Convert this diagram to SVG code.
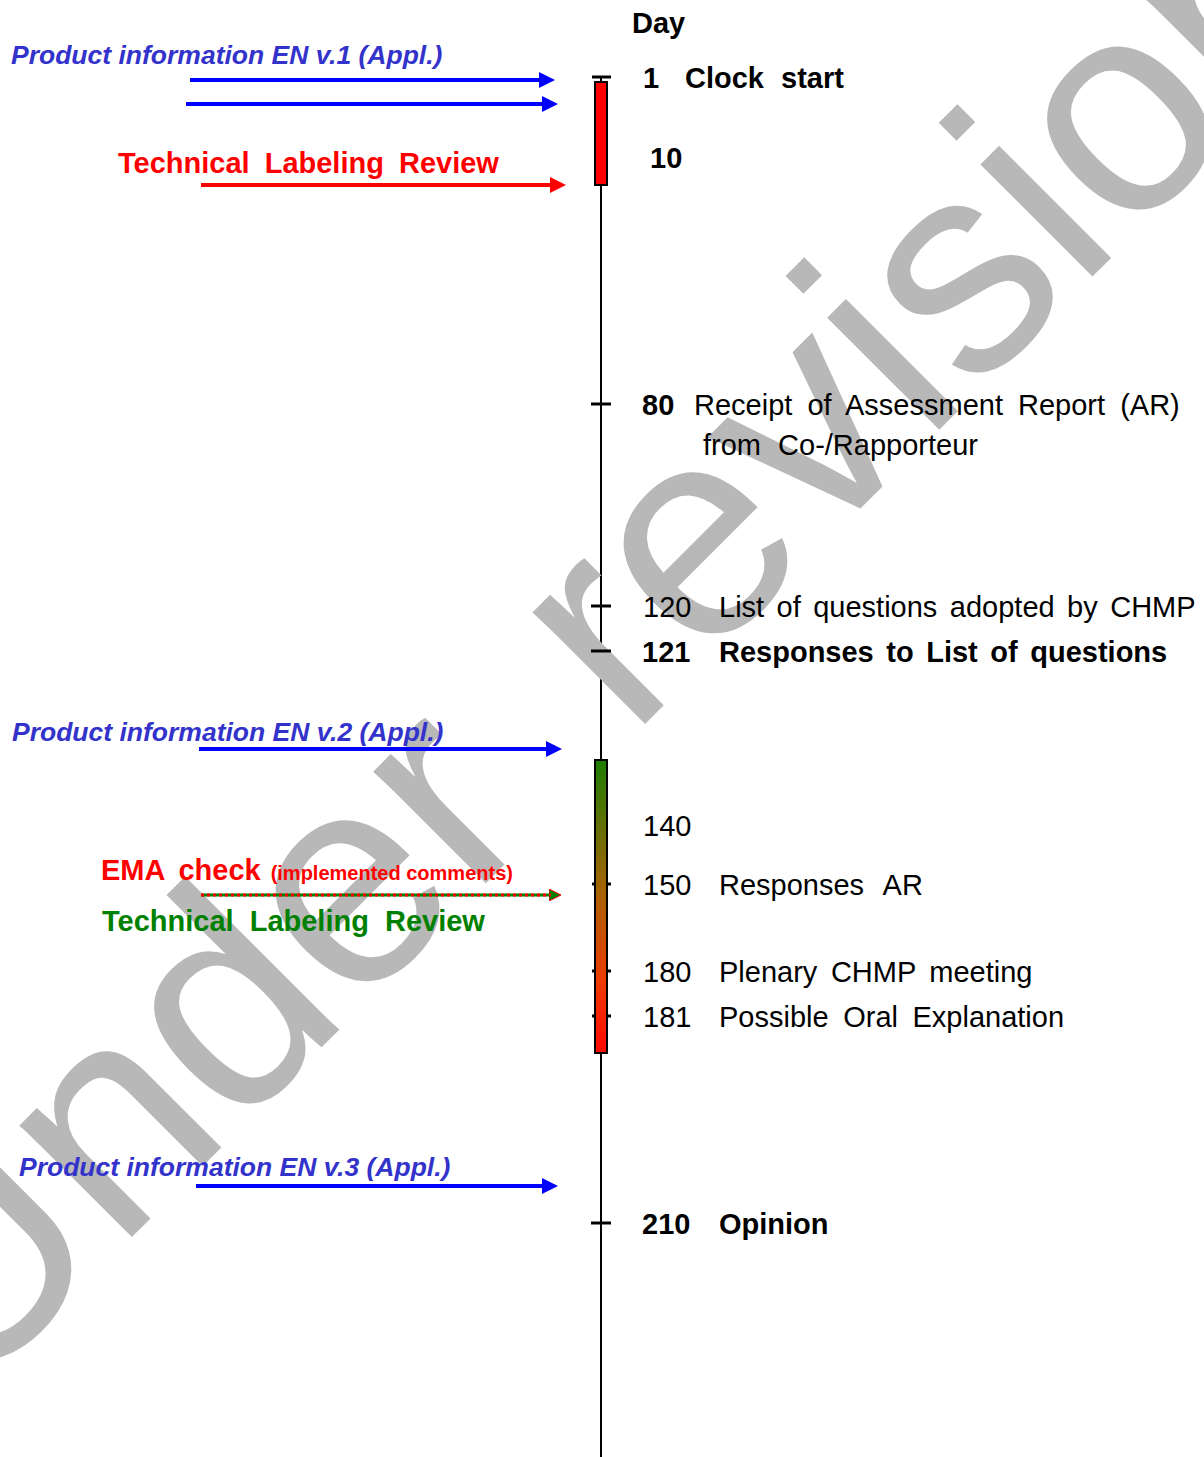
<svg xmlns="http://www.w3.org/2000/svg" width="1204" height="1457" viewBox="0 0 1204 1457">
<style>
text{font-family:"Liberation Sans",Arial,sans-serif}
.wm{font-size:300px;fill:#b8b8b8;word-spacing:42px}
.r{font-size:29px;fill:#000}
.b{font-size:29px;fill:#000;font-weight:bold}
.pi{font-size:26.5px;fill:#3333cc;font-weight:bold;font-style:italic}
.tlr{font-size:29px;font-weight:bold}
.tick{stroke:#000;stroke-width:3}
.blue{stroke:#0000ff;stroke-width:4;fill:none}
.red{stroke:#ff0000;stroke-width:4;fill:none}
</style>
<defs>
<linearGradient id="grad" x1="0" y1="0" x2="0" y2="1">
<stop offset="0" stop-color="#1c7e00"/>
<stop offset="0.45" stop-color="#a86200"/>
<stop offset="0.75" stop-color="#ec3c00"/>
<stop offset="1" stop-color="#ff0800"/>
</linearGradient>
<marker id="ab" markerUnits="userSpaceOnUse" markerWidth="18" markerHeight="16" refX="3" refY="8" orient="auto">
<path d="M0,0 L16,8 L0,16 z" fill="#0000ff"/>
</marker>
<marker id="ar" markerUnits="userSpaceOnUse" markerWidth="18" markerHeight="16" refX="3" refY="8" orient="auto">
<path d="M0,0 L16,8 L0,16 z" fill="#ff0000"/>
</marker>
<marker id="ag" markerUnits="userSpaceOnUse" markerWidth="14" markerHeight="12" refX="2" refY="6" orient="auto">
<path d="M0,0 L12,6 L0,12 z" fill="#008000" stroke="#ff0000" stroke-width="1"/>
</marker>
</defs>
<rect width="1204" height="1457" fill="#fff"/>

<g id="timeline-axis">
<line x1="601" y1="77" x2="601" y2="1457" stroke="#000" stroke-width="2"/>
</g>

<g id="watermark">
<text class="wm" transform="translate(-36,1405) rotate(-45)">Under revision</text>
</g>

<g id="timeline">
<line class="tick" x1="592" y1="77" x2="611" y2="77"/>
<rect x="595" y="82" width="12" height="103" fill="#ff0000" stroke="#000" stroke-width="2"/>
<line class="tick" x1="591" y1="404" x2="611" y2="404"/>
<line class="tick" x1="591" y1="606" x2="611" y2="606"/>
<line class="tick" x1="591" y1="651" x2="611" y2="651"/>
<line class="tick" x1="592" y1="884" x2="611" y2="884"/>
<line class="tick" x1="592" y1="971" x2="611" y2="971"/>
<line class="tick" x1="592" y1="1016" x2="611" y2="1016"/>
<rect x="595" y="760" width="12" height="293" fill="url(#grad)" stroke="#000" stroke-width="2"/>
<line class="tick" x1="591" y1="1223" x2="611" y2="1223"/>
</g>

<g id="connectors">
<line class="blue" x1="190" y1="80" x2="542" y2="80" marker-end="url(#ab)"/>
<line class="blue" x1="186" y1="104" x2="545" y2="104" marker-end="url(#ab)"/>
<line class="red" x1="201" y1="185" x2="553" y2="185" marker-end="url(#ar)"/>
<line class="blue" x1="199" y1="749" x2="549" y2="749" marker-end="url(#ab)"/>
<line x1="201" y1="895" x2="551" y2="895" stroke="#008000" stroke-width="3" marker-end="url(#ag)"/>
<line x1="201" y1="895" x2="551" y2="895" stroke="#ff0000" stroke-width="3" stroke-dasharray="3 3"/>
<line class="blue" x1="196" y1="1186" x2="545" y2="1186" marker-end="url(#ab)"/>
</g>

<g id="day-header"><text class="b" x="632" y="33">Day</text></g>
<g id="day-1"><text class="b" x="643" y="88">1</text><text class="b" x="685" y="88" style="word-spacing:9px">Clock start</text></g>
<g id="day-10"><text class="b" x="650" y="168">10</text></g>
<g id="day-80"><text class="b" x="642" y="415">80</text><text class="r" x="694" y="415" style="word-spacing:7px">Receipt of Assessment Report (AR)</text><text class="r" x="703" y="455" style="word-spacing:9px">from Co-/Rapporteur</text></g>
<g id="day-120"><text class="r" x="643" y="617">120</text><text class="r" x="719" y="617" style="word-spacing:4.4px">List of questions adopted by CHMP</text></g>
<g id="day-121"><text class="b" x="642" y="662">121</text><text class="b" x="719" y="662" style="word-spacing:4.5px">Responses to List of questions</text></g>
<g id="day-140"><text class="r" x="643" y="836">140</text></g>
<g id="day-150"><text class="r" x="643" y="895">150</text><text class="r" x="719" y="895" style="word-spacing:12px">Responses AR</text></g>
<g id="day-180"><text class="r" x="643" y="982">180</text><text class="r" x="719" y="982" style="word-spacing:5.5px">Plenary CHMP meeting</text></g>
<g id="day-181"><text class="r" x="643" y="1027">181</text><text class="r" x="719" y="1027" style="word-spacing:6.5px">Possible Oral Explanation</text></g>
<g id="day-210"><text class="b" x="642" y="1234">210</text><text class="b" x="719" y="1234">Opinion</text></g>

<g id="pi-v1"><text class="pi" x="11" y="64">Product information EN v.1 (Appl.)</text></g>
<g id="tlr-1"><text class="tlr" x="118" y="173" fill="#ff0000" style="word-spacing:7px">Technical Labeling Review</text></g>
<g id="pi-v2"><text class="pi" x="12" y="741">Product information EN v.2 (Appl.)</text></g>
<g id="ema-check"><text x="101" y="880" fill="#ff0000" font-weight="bold" font-size="29" style="word-spacing:6px">EMA check<tspan font-size="20" style="word-spacing:0" dx="10">(implemented comments)</tspan></text></g>
<g id="tlr-2"><text class="tlr" x="102" y="931" fill="#008000" style="word-spacing:8px">Technical Labeling Review</text></g>
<g id="pi-v3"><text class="pi" x="19" y="1176">Product information EN v.3 (Appl.)</text></g>
</svg>
